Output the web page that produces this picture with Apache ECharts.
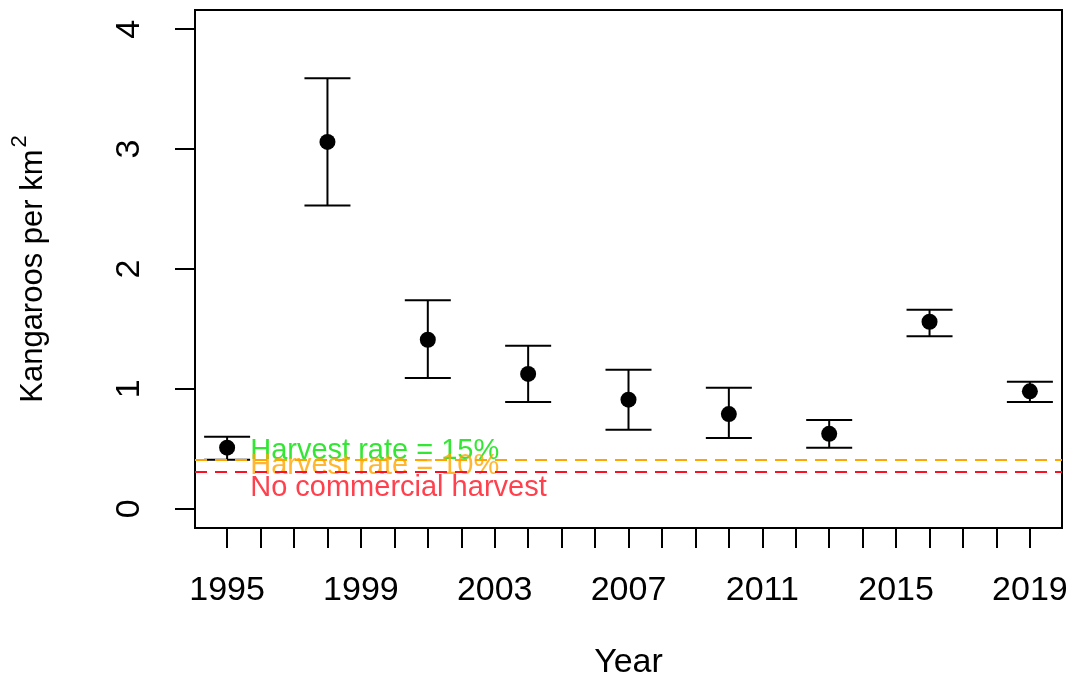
<!DOCTYPE html>
<html>
<head>
<meta charset="utf-8">
<script src="https://cdn.jsdelivr.net/npm/echarts@6.0.0/dist/echarts.min.js"></script>
<style>
  html, body { margin: 0; padding: 0; background: #fff; }
  #chart { width: 1078px; height: 680px; }
</style>
</head>
<body>
<div id="chart"></div>
<script>
// survey years and density estimates (kangaroos per km2)
var years    = [1995, 1998, 2001, 2004, 2007, 2010, 2013, 2016, 2019];
var density  = [0.51, 3.06, 1.41, 1.125, 0.91, 0.79, 0.625, 1.56, 0.98];
var lower    = [0.41, 2.53, 1.09, 0.89, 0.66, 0.59, 0.51, 1.44, 0.89];
var upper    = [0.60, 3.59, 1.74, 1.36, 1.16, 1.01, 0.74, 1.66, 1.06];

var tickYears  = [];
for (var y = 1995; y <= 2019; y++) tickYears.push(y);
var labelYears = [1995, 1999, 2003, 2007, 2011, 2015, 2019];
var yTicks     = [0, 1, 2, 3, 4];

// threshold lines
var thrValues = [0.41, 0.314];
var thrColors = ['#FFA500', '#FF1020'];

// annotation text
var noteText   = ['Harvest rate = 15%', 'Harvest rate = 10%', 'No commercial harvest'];
var noteX      = [1995.69, 1995.69, 1995.69];
var noteY      = [0.48, 0.355, 0.175];
var noteColors = ['#00E000', '#FFA500', '#FF1020'];

var dom = document.getElementById('chart');
var myChart = echarts.init(dom);

var pts = [];
var bars = [];
for (var i = 0; i < years.length; i++) {
    pts.push([years[i], density[i]]);
    bars.push([years[i], lower[i], upper[i]]);
}
var notes = [];
for (var j = 0; j < noteText.length; j++) {
    notes.push({
        value: [noteX[j], noteY[j]],
        name: noteText[j],
        label: { color: noteColors[j] }
    });
}

var font = 'Liberation Sans, Arial, sans-serif';

option = {
    animation: false,
    backgroundColor: '#fff',
    grid: {
        left: 195,
        right: 16,
        top: 10,
        bottom: 152,
        outerBoundsMode: 'none',
        containLabel: false,
        show: true,
        borderColor: '#000',
        borderWidth: 2,
        backgroundColor: 'transparent'
    },
    xAxis: {
        type: 'value',
        min: 1994.04,
        max: 2019.96,
        name: 'Year',
        nameLocation: 'middle',
        nameGap: 118,
        nameTextStyle: { fontSize: 34, color: '#000', fontFamily: font },
        splitLine: { show: false },
        axisLine: { show: false, onZero: false },
        axisTick: {
            show: true,
            customValues: tickYears,
            length: 20,
            lineStyle: { color: '#000', width: 2 }
        },
        axisLabel: {
            customValues: labelYears,
            fontSize: 34,
            color: '#000',
            fontFamily: font,
            margin: 46,
            formatter: function (v) { return String(v); }
        }
    },
    yAxis: {
        type: 'value',
        min: -0.16,
        max: 4.16,
        name: 'Kangaroos per km{sup|2}',
        nameLocation: 'middle',
        nameGap: 138,
        nameRotate: 90,
        nameTextStyle: {
            fontSize: 31,
            color: '#000',
            fontFamily: font,
            rich: {
                sup: { fontSize: 22, color: '#000', fontFamily: font, verticalAlign: 'bottom', padding: [0, 0, 26, 2] }
            }
        },
        splitLine: { show: false },
        axisLine: { show: false, onZero: false },
        axisTick: {
            show: true,
            customValues: yTicks,
            length: 20,
            lineStyle: { color: '#000', width: 2 }
        },
        axisLabel: {
            customValues: yTicks,
            rotate: 90,
            fontSize: 34,
            color: '#000',
            fontFamily: font,
            margin: 48
        }
    },
    series: [
        {
            type: 'line',
            data: [],
            silent: true,
            markLine: {
                symbol: 'none',
                silent: true,
                label: { show: false },
                data: thrValues.map(function (v, k) {
                    return { yAxis: v, lineStyle: { color: thrColors[k], type: [12, 8], width: 2 } };
                })
            }
        },
        {
            type: 'custom',
            data: bars,
            renderItem: function (params, api) {
                var x = api.value(0);
                var lo = api.coord([x, api.value(1)]);
                var hi = api.coord([x, api.value(2)]);
                var w = 23;
                var st = { stroke: '#000', lineWidth: 2 };
                return {
                    type: 'group',
                    children: [
                        { type: 'line', shape: { x1: hi[0], y1: hi[1], x2: lo[0], y2: lo[1] }, style: st },
                        { type: 'line', shape: { x1: hi[0] - w, y1: hi[1], x2: hi[0] + w, y2: hi[1] }, style: st },
                        { type: 'line', shape: { x1: lo[0] - w, y1: lo[1], x2: lo[0] + w, y2: lo[1] }, style: st }
                    ]
                };
            }
        },
        {
            type: 'scatter',
            data: pts,
            symbol: 'circle',
            symbolSize: 16,
            itemStyle: { color: '#000', opacity: 1 }
        },
        {
            type: 'scatter',
            data: notes,
            symbolSize: 0,
            silent: true,
            label: {
                show: true,
                position: 'right',
                distance: 0,
                fontSize: 29,
                fontFamily: font,
                formatter: '{b}'
            }
        }
    ]
};

if (option && typeof option === "object") {
    myChart.setOption(option, true);
}
</script>
</body>
</html>
